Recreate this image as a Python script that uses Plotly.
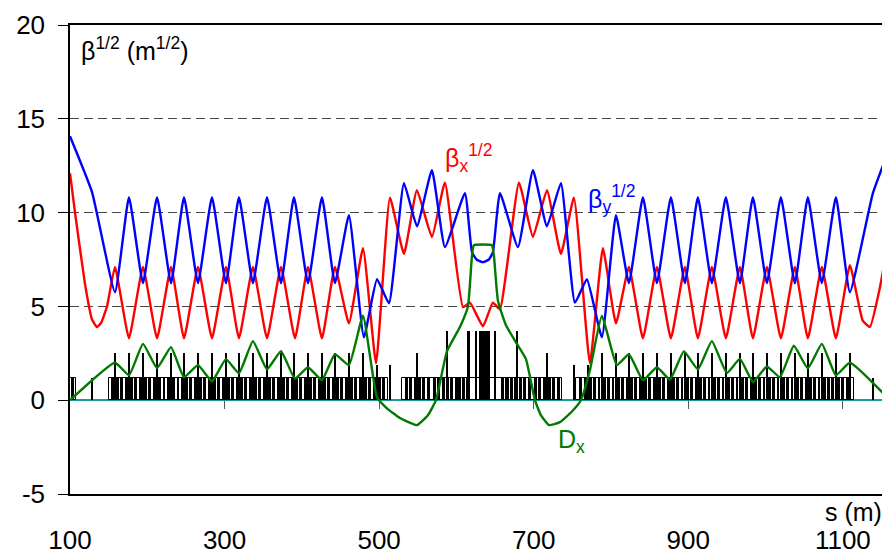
import plotly.graph_objects as go

# ---------------- data ----------------
s_bx = [100, 106.5, 119.4, 128.5, 134.9, 140.0, 147.9, 158.2,
        176.3, 194.4, 212.6, 230.7, 247.5, 265.6, 283.7, 301.8, 318.6, 336.7,
        354.9, 373.0, 391.1, 407.9, 426.0, 442.8, 460.9, 479.1,
        496.0, 514.0, 532.1, 548.9, 568.3, 585.1,
        608.4, 617.5, 634.3, 647.2, 656.3,
        680.9, 699.0, 717.1, 735.2, 752.0, 772.7, 789.5, 806.4,
        823.2, 841.3, 859.4, 877.5, 895.6, 912.4, 930.5, 948.6, 966.8, 983.6,
        1001.7, 1019.8, 1037.9, 1054.7, 1072.8, 1091.0, 1109.1,
        1125.5, 1135.0, 1147.9, 1161.0]
bx = [12.1, 10.0, 6.2, 4.3, 3.9, 4.1, 5.0, 7.1,
      3.3, 7.1, 3.3, 7.1, 3.3, 7.1, 3.3, 7.1, 3.3, 7.1,
      3.3, 7.1, 3.3, 7.1, 3.3, 7.1, 4.1, 8.1,
      1.97, 10.8, 7.8, 11.2, 8.7, 11.6,
      4.96, 5.2, 3.94, 5.2, 4.85,
      11.6, 8.7, 11.2, 7.8, 10.8, 1.97, 8.1, 4.1,
      7.1, 3.3, 7.1, 3.3, 7.1, 3.3, 7.1, 3.3, 7.1, 3.3,
      7.1, 3.3, 7.1, 3.3, 7.1, 3.3, 7.2,
      4.26, 3.9, 6.0, 9.06]

s_by = [100, 128.5, 158.2,
        176.3, 194.4, 212.6, 230.7, 247.5, 265.6, 283.7, 301.8, 318.6, 336.7,
        354.9, 373.0, 389.8, 407.9, 426.0, 442.8,
        460.9, 480.3, 497.2, 512.7, 532.1, 548.9, 568.3, 585.1, 611.0,
        620.1, 626.0, 634.3, 642.0, 647.2,
        656.3, 679.6, 699.0, 717.1, 735.2, 753.3, 768.8, 788.2, 806.4,
        823.2, 841.3, 859.4, 877.5, 895.6, 912.4, 930.5, 948.6, 966.8, 983.6,
        1001.7, 1019.8, 1037.9, 1054.7, 1072.8, 1091.0,
        1109.1, 1138.8, 1161.0]
by = [14.07, 11.09, 5.76,
      10.82, 6.24, 10.82, 6.24, 10.82, 6.24, 10.82, 6.24, 10.82, 6.24,
      10.82, 6.24, 10.82, 6.24, 10.82, 6.24,
      9.86, 3.36, 6.45, 5.17, 11.57, 9.27, 12.26, 8.16, 11.04,
      7.89, 7.5, 7.36, 7.5, 7.89,
      11.04, 8.16, 12.26, 9.27, 11.57, 5.2, 6.45, 3.36, 9.86,
      6.24, 10.82, 6.24, 10.82, 6.24, 10.82, 6.24, 10.82, 6.24, 10.82,
      6.24, 10.82, 6.24, 10.82, 6.24, 10.82,
      5.76, 11.03, 13.49]

s_dx = [100, 158.2, 176.3, 194.4, 212.6, 230.7, 247.5, 265.6, 283.7, 301.8,
        318.6, 336.7, 354.9, 373.0, 391.1, 407.9, 426.0, 442.8, 460.9, 479.1,
        497.2, 510.1, 526.9, 548.9, 563.1, 573.5, 587.7, 604.5, 614.9, 620.1,
        622.6, 645.9, 648.5, 653.7, 664.1, 678.3, 689.9, 701.6, 709.3, 719.7,
        733.9, 749.4, 761.1, 772.7, 788.2,
        807.6, 823.2, 841.3, 859.4, 876.2, 894.3, 912.4, 930.5, 949.9, 966.8,
        983.6, 1001.7, 1018.5, 1036.6, 1054.7, 1072.8, 1091.0, 1109.1, 1160.8]
dx = [0.0, 2.0, 1.33, 3.0, 1.71, 2.83, 1.23, 1.87, 1.01, 2.19,
      1.44, 3.15, 1.65, 2.61, 1.15, 1.76, 1.07, 2.45, 1.87, 4.5,
      0.16, -0.43, -0.95, -1.33, -0.8, 0.0, 2.6, 3.9, 5.0, 7.7,
      8.26, 8.26, 7.7, 5.3, 4.0, 3.0, 2.2, 0.0, -0.8, -1.33,
      -1.17, -0.6, 0.0, 1.6, 4.5,
      1.87, 2.45, 1.07, 1.76, 1.1, 2.6, 1.65, 3.15, 1.45, 2.2,
      0.98, 1.8, 1.23, 2.9, 1.7, 3.0, 1.33, 2.0, 0.0]

# lattice: quadrupoles (thin tall marks)
quad_s = [158.2, 176.3, 194.4, 212.6, 230.7, 247.5, 265.6, 283.7, 301.8, 318.6,
          336.7, 354.9, 373.0, 389.8, 407.9, 426.0, 442.8, 460.9, 479.1,
          497.2, 514.0, 548.9, 587.7, 616.0, 650.0, 678.3, 717.1, 752.0, 770.1,
          788.2, 806.4, 823.2, 841.3, 859.4, 877.5, 895.6, 912.4, 930.5, 948.6,
          966.8, 983.6, 1001.7, 1019.8, 1037.9, 1054.7, 1072.8, 1091.0, 1109.1]
quad_h = [2.5] * 19 + [1.9, 1.9, 2.5, 3.7, 3.7, 3.7, 3.7, 2.5, 1.9, 1.9] + [2.5] * 19
quad_w = [1.4] * 19 + [1.4, 1.4, 1.4, 2.2, 2.2, 2.2, 2.2, 1.4, 1.4, 1.4] + [1.4] * 19

# central insertion block
block_s = [625.6, 636.0]
block_w = [2.2, 14.0]
block_h = [3.7, 3.7]

# dipole envelopes (outlined boxes) and dipoles (filled)
box_start = [100.0, 150.0, 530.0, 755.0]
box_end = [107.5, 511.0, 737.0, 1115.0]
cell_start = [140.1, 158.2, 176.3, 194.4, 212.6, 230.7, 247.5, 265.6, 283.7, 301.8,
              318.6, 336.7, 354.9, 373.0, 389.8, 407.9, 426.0, 442.8, 460.9, 479.1,
              497.2, 532.1, 548.9, 568.3, 585.1, 600.0, 656.3, 662.0, 679.6, 699.0,
              717.1, 752.0, 770.1, 788.2, 806.4, 823.2, 841.3, 859.4, 877.5, 895.6,
              912.4, 930.5, 948.6, 966.8, 983.6, 1001.7, 1019.8, 1037.9, 1054.7,
              1072.8, 1091.0]
dip_offset = [3.6, 9.0, 14.4]
dip_w = 3.8
dip_h = 1.2
single_s = [103.5, 128.5, 1138.8, 1159.6]
single_w = [4.0, 1.6, 1.6, 2.0]

x_ticks = [100, 300, 500, 700, 900, 1100]
y_ticks = [-5, 0, 5, 10, 15, 20]

# ---------------- build derived tables ----------------
dip_x = []
for c in cell_start:
    for o in dip_offset:
        p = c + o
        if any(a + 1.5 < p < b - 1.5 for a, b in zip(box_start, box_end)):
            dip_x.append(p)
box_x = [(a + b) / 2 for a, b in zip(box_start, box_end)]
box_wd = [b - a for a, b in zip(box_start, box_end)]

FONT = "Arial, Liberation Sans, sans-serif"
fig = go.Figure()

fig.add_trace(go.Bar(x=box_x, y=[dip_h] * len(box_x), width=box_wd, base=0,
                     marker=dict(color="white", line=dict(color="black", width=1)),
                     showlegend=False, hoverinfo="skip"))
fig.add_trace(go.Bar(x=dip_x, y=[dip_h] * len(dip_x), width=[dip_w] * len(dip_x), base=0,
                     marker=dict(color="black", line=dict(width=0)),
                     showlegend=False, hoverinfo="skip"))
fig.add_trace(go.Bar(x=single_s, y=[dip_h] * len(single_s), width=single_w, base=0,
                     marker=dict(color="black", line=dict(width=0)),
                     showlegend=False, hoverinfo="skip"))
fig.add_trace(go.Bar(x=quad_s, y=quad_h, width=quad_w, base=0,
                     marker=dict(color="black", line=dict(width=0)),
                     showlegend=False, hoverinfo="skip"))
fig.add_trace(go.Bar(x=block_s, y=block_h, width=block_w, base=0,
                     marker=dict(color="black", line=dict(width=0)),
                     showlegend=False, hoverinfo="skip"))

fig.add_trace(go.Scatter(x=s_dx, y=dx, mode="lines", xaxis="x2",
                         line=dict(color="#007a00", width=2.4, shape="spline", smoothing=0.4),
                         showlegend=False))
fig.add_trace(go.Scatter(x=s_bx, y=bx, mode="lines",
                         line=dict(color="#ff0000", width=2.4, shape="spline", smoothing=0.4),
                         showlegend=False))
fig.add_trace(go.Scatter(x=s_by, y=by, mode="lines",
                         line=dict(color="#0000ff", width=2.4, shape="spline", smoothing=0.4),
                         showlegend=False))

XR = [100, 1161]
# the page body adds an 8 px offset; the figure is sized so the plot area
# spans x 70..890 and y 25..494 in the window
fig.update_layout(
    width=882, height=546,
    margin=dict(l=62, r=0, t=17, b=60, autoexpand=False),
    paper_bgcolor="white", plot_bgcolor="white",
    barmode="overlay", bargap=0,
    font=dict(family=FONT, color="black"),
    xaxis=dict(range=XR, tickvals=x_ticks, ticktext=[str(v) for v in x_ticks],
               automargin=False,
               showgrid=False, zeroline=False, showline=True, mirror=True,
               linecolor="black", linewidth=1.5,
               ticks="outside", ticklen=22, tickcolor="rgba(0,0,0,0)",
               tickfont=dict(size=26, family=FONT)),
    xaxis2=dict(range=XR, overlaying="x", anchor="free", position=94 / 469,
                automargin=False,
                tickvals=x_ticks[1:], showticklabels=False, showgrid=False,
                zeroline=False, showline=False, ticks="outside", ticklen=8,
                tickcolor="#555555", tickwidth=1),
    yaxis=dict(range=[-5, 20], tickvals=y_ticks, ticktext=[str(v) for v in y_ticks],
               automargin=False,
               showgrid=True, gridcolor="#444444", griddash="9px,5px", gridwidth=1,
               zeroline=True, zerolinecolor="#1a9a9a", zerolinewidth=1.5,
               showline=True, linecolor="black", linewidth=1.5,
               ticks="outside", ticklen=10, tickcolor="black", tickwidth=1,
               ticklabelstandoff=8,
               tickfont=dict(size=26, family=FONT)),
)

fig.add_annotation(x=111, y=18.7, xref="x", yref="y", xanchor="left", yanchor="middle",
                   text="β<sup>1/2</sup> (m<sup>1/2</sup>)", showarrow=False,
                   font=dict(size=25, family=FONT, color="black"))
fig.add_annotation(x=583, y=12.9, xref="x", yref="y", xanchor="left", yanchor="middle",
                   text="β<sub>x</sub><sup>1/2</sup>", showarrow=False,
                   font=dict(size=25, family=FONT, color="#ff0000"))
fig.add_annotation(x=768, y=10.7, xref="x", yref="y", xanchor="left", yanchor="middle",
                   text="β<sub>y</sub><sup>1/2</sup>", showarrow=False,
                   font=dict(size=25, family=FONT, color="#0000ff"))
fig.add_annotation(x=729, y=-2.2, xref="x", yref="y", xanchor="left", yanchor="middle",
                   text="D<sub>x</sub>", showarrow=False,
                   font=dict(size=25, family=FONT, color="#007a00"))
fig.add_annotation(x=0.993, y=-18 / 469, xref="paper", yref="paper",
                   xanchor="right", yanchor="middle",
                   text="s (m)", showarrow=False,
                   font=dict(size=25, family=FONT, color="black"))

fig.write_html("out.html")
